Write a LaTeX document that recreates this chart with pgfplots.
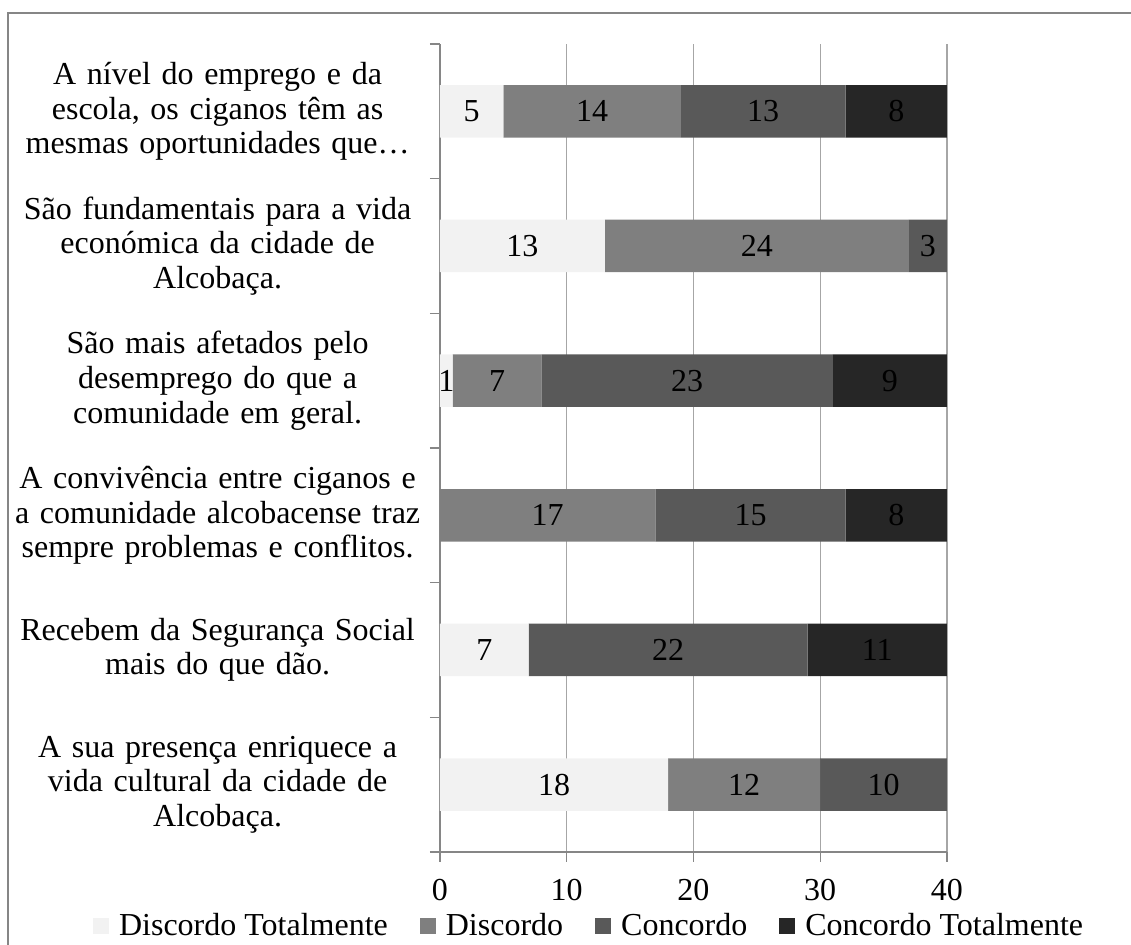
\documentclass[border=0pt]{standalone}
\usepackage{fontspec}
\setmainfont{Liberation Serif}
\usepackage{pgfplots}
\usepackage{pgfplotstable}
\pgfplotsset{compat=1.18}

\definecolor{cdt}{HTML}{F2F2F2}
\definecolor{cd}{HTML}{7F7F7F}
\definecolor{cc}{HTML}{595959}
\definecolor{cct}{HTML}{262626}
\definecolor{gridc}{HTML}{A6A6A6}
\definecolor{axc}{HTML}{868686}
\newcommand\fnt{\fontsize{16}{17.3}\selectfont}

% y = 5 is the top category
\pgfplotstableread{
y dt d c ct
5 5 14 13 8
4 13 24 3 0
3 1 7 23 9
2 0 17 15 8
1 7 0 22 11
0 18 12 10 0
}\data

% stacked bars already put the node in the middle of each segment
\pgfplotsset{
  seglabel/.style={
    visualization depends on={\thisrow{#1} \as \val},
    nodes near coords={\ifdim\val pt>0pt \pgfmathprintnumber{\val}\fi},
    every node near coord/.style={anchor=center, font=\fnt, text=black},
  },
}

\begin{document}
\begin{tikzpicture}
\path[use as bounding box] (0,0) rectangle (565.5pt,472.5pt);
\draw[axc, line width=0.8pt] (4pt,0) -- (4pt,466pt) -- (565.5pt,466pt);
\begin{axis}[
  at={(220pt,46.5pt)}, anchor=south west,
  scale only axis,
  width=253.5pt, height=404pt,
  xbar stacked,
  bar width=0.39,
  xmin=0, xmax=40,
  ymin=-0.5, ymax=5.5,
  xtick={0,10,...,40},
  ytick={0,...,5},
  minor ytick={-0.5,0.5,...,5.5},
  major y tick style={draw=none},
  yticklabels={
    {A sua presença enriquece a\\vida cultural da cidade de\\Alcobaça.},
    {Recebem da Segurança Social\\mais do que dão.},
    {A convivência entre ciganos e\\a comunidade alcobacense traz\\sempre problemas e conflitos.},
    {São mais afetados pelo\\desemprego do que a\\comunidade em geral.},
    {São fundamentais para a vida\\económica da cidade de\\Alcobaça.},
    {A nível do emprego e da\\escola, os ciganos têm as\\mesmas oportunidades que…},
  },
  yticklabel style={text width=210pt, align=center, font=\fnt, inner sep=0pt, xshift=-1pt},
  xticklabel style={font=\fnt, yshift=-5pt},
  /pgf/number format/assume math mode=true,
  tick align=outside,
  major tick length=5pt,
  minor tick length=5pt,
  axis lines*=left,
  axis line style={axc, line width=0.8pt},
  tick style={axc, line width=0.6pt},
  xmajorgrids,
  major grid style={gridc, line width=0.7pt},
  legend style={at={(0.296,-0.092)}, anchor=center, draw=none, fill=none,
    font=\fnt, legend columns=4, inner sep=0pt,
    /tikz/every odd column/.append style={column sep=3pt},
    /tikz/every even column/.append style={column sep=14pt}},
  legend image code/.code={\fill[#1] (0pt,-4pt) rectangle (8pt,4pt);},
]
\addplot[fill=cdt, draw=none, seglabel=dt] table[x=dt, y=y] {\data};
\addplot[fill=cd, draw=none, seglabel=d] table[x=d, y=y] {\data};
\addplot[fill=cc, draw=none, seglabel=c] table[x=c, y=y] {\data};
\addplot[fill=cct, draw=none, seglabel=ct] table[x=ct, y=y] {\data};
\legend{Discordo Totalmente, Discordo, Concordo, Concordo Totalmente}
\end{axis}
\end{tikzpicture}
\end{document}
